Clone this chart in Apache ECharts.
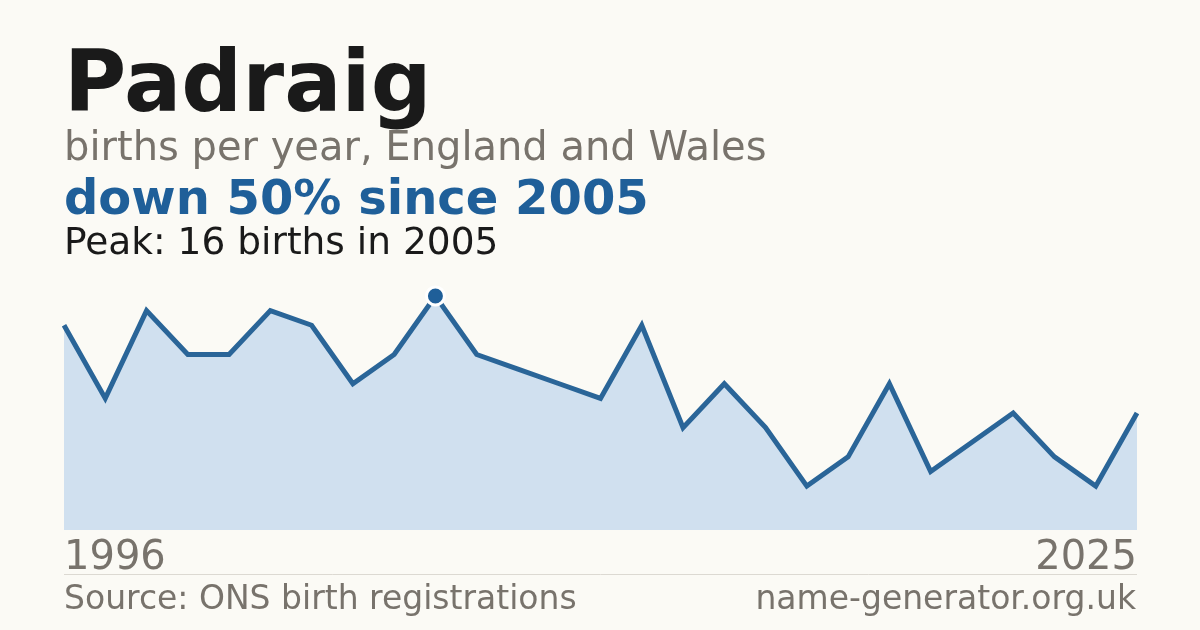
<!DOCTYPE html>
<html>
<head>
<meta charset="utf-8">
<style>
  html, body { margin: 0; padding: 0; background: #fbfaf5; }
  #chart { width: 1200px; height: 630px; }
</style>
<script src="https://cdn.jsdelivr.net/npm/echarts@6/dist/echarts.min.js"></script>
</head>
<body>
<div id="chart"></div>
<script>
// births per year (some years not published)
const years = ['1996', '1997', '1998', '1999', '2000', '2001', '2002', '2003', '2004', '2005',
  '2006', '2007', '2008', '2009', '2010', '2011', '2012', '2013', '2014', '2015',
  '2017', '2018', '2020', '2021', '2023', '2024', '2025']
const births = [14, 9, 15, 12, 12, 15, 14, 10, 12, 16,
  12, 11, 10, 9, 14, 7, 10, 7, 3, 5,
  10, 4, 6, 8, 5, 3, 8]

const blue = '#1f5f99'
const grey = '#78736c'
const font = 'DejaVu Sans'

const chart = echarts.init(document.getElementById('chart'), null, { renderer: 'canvas' })
const last = years.length - 1

chart.setOption({
  backgroundColor: '#fbfaf5',
  animation: false,
  grid: { left: 64, right: 63, top: 296, bottom: 100 },
  xAxis: {
    type: 'category',
    data: years,
    boundaryGap: false,
    axisLine: { show: false },
    axisTick: { show: false },
    splitLine: { show: false },
    axisLabel: {
      interval: (i) => i === 0 || i === last,
      alignMinLabel: 'left',
      alignMaxLabel: 'right',
      fontFamily: font,
      fontSize: 40,
      color: grey,
      margin: 9
    }
  },
  yAxis: {
    type: 'value',
    min: 0,
    max: 16,
    show: false
  },
  series: [
    {
      type: 'line',
      data: births,
      showSymbol: false,
      clip: false,
      lineStyle: { color: '#2a6598', width: 5, join: 'miter' },
      areaStyle: { color: '#d0e0ef', opacity: 1 },
      markPoint: {
        symbol: 'circle',
        symbolSize: 18,
        itemStyle: { color: blue, borderColor: '#ffffff', borderWidth: 3 },
        label: { show: false },
        data: [{ type: 'max' }]
      }
    }
  ],
  graphic: [
    { type: 'text', left: 64, top: 46, style: { text: 'Padraig', font: 'bold 85px "DejaVu Sans"', fill: '#1a1a1a' } },
    { type: 'text', left: 64, top: 130, style: { text: 'births per year, England and Wales', font: '40px "DejaVu Sans"', fill: grey } },
    { type: 'text', left: 64, top: 178, style: { text: 'down 50% since 2005', font: 'bold 48px "DejaVu Sans"', fill: blue } },
    { type: 'text', left: 64, top: 225, style: { text: 'Peak: 16 births in 2005', font: '37.5px "DejaVu Sans"', fill: '#1a1a1a' } },
    { type: 'line', shape: { x1: 64, y1: 574.5, x2: 1137, y2: 574.5 }, style: { stroke: '#dcd9d2', lineWidth: 1 } },
    { type: 'text', left: 64, top: 584, style: { text: 'Source: ONS birth registrations', font: '33px "DejaVu Sans"', fill: grey } },
    { type: 'text', right: 64, top: 584, style: { text: 'name-generator.org.uk', font: '33px "DejaVu Sans"', fill: grey } }
  ]
})
</script>
</body>
</html>
